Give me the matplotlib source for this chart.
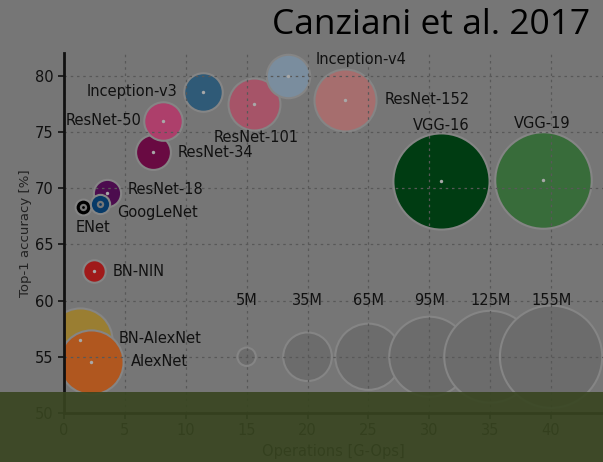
import matplotlib.pyplot as plt
from matplotlib.patches import Rectangle

# Networks: operations [G-Ops], top-1 accuracy [%], params [M]
names = ["BN-AlexNet", "AlexNet", "BN-NIN", "ENet", "ResNet-18", "GoogLeNet",
         "ResNet-34", "ResNet-50", "Inception-v3", "ResNet-101", "Inception-v4",
         "ResNet-152", "VGG-16", "VGG-19"]
ops = [1.3, 2.2, 2.45, 1.55, 3.5, 2.95, 7.3, 8.1, 11.4, 15.6, 18.4, 23.1, 31.0, 39.3]
acc = [56.5, 54.5, 62.6, 68.3, 69.6, 68.6, 73.2, 76.0, 78.5, 77.5, 80.0, 77.8, 70.6, 70.7]
params = [61, 61, 7.5, 0.37, 11, 5.5, 18, 22, 22, 40, 28, 57, 137, 138]
colors = ["#9a7e32", "#b0571f", "#a01a1a", "#000000", "#4c0c4e", "#073a68",
          "#690a42", "#ad3f6b", "#2f5a77", "#a65468", "#7a8d9e", "#a66e6e",
          "#003c12", "#386c3a"]

# size legend
legend_params = [5, 35, 65, 95, 125, 155]
legend_labels = ["5M", "35M", "65M", "95M", "125M", "155M"]
legend_x = [15, 20, 25, 30, 35, 40]

# label anchors
label_pos = {
    "BN-AlexNet": (4.5, 56.6, "left"), "AlexNet": (5.5, 54.6, "left"),
    "BN-NIN": (4.0, 62.6, "left"), "ENet": (2.4, 66.5, "center"),
    "ResNet-18": (5.25, 69.9, "left"), "GoogLeNet": (4.4, 67.8, "left"),
    "ResNet-34": (9.3, 73.2, "left"), "ResNet-50": (6.4, 76.0, "right"),
    "Inception-v3": (9.3, 78.6, "right"), "ResNet-101": (15.8, 74.5, "center"),
    "Inception-v4": (20.7, 81.4, "left"), "ResNet-152": (26.3, 77.9, "left"),
    "VGG-16": (31.0, 75.6, "center"), "VGG-19": (39.3, 75.7, "center"),
}

bg = "#767676"
edge = "#858585"
dot = "#a8a8a8"
ink = "#111111"


def size(p):
    return max(35 * p, 130)


fig = plt.figure(figsize=(6.03, 4.62), dpi=100, facecolor=bg)
ax = fig.add_axes([0.1061, 0.1061, 0.894, 0.779], facecolor=bg)

ax.set_axisbelow(False)
ax.grid(True, color="#585858", linestyle=(0, (2, 3)), linewidth=0.9, zorder=2.5)

ax.scatter(legend_x, [55] * len(legend_x), s=[size(p) for p in legend_params],
           color="#6c6c6c", edgecolor=edge, linewidth=1.5, zorder=2)
for x, lab in zip(legend_x, legend_labels):
    ax.text(x, 60, lab, ha="center", va="center", fontsize=10.5, color=ink, zorder=4)

for n, x, y, p, c in zip(names, ops, acc, params, colors):
    ax.scatter(x, y, s=size(p), color=c, edgecolor=edge, linewidth=1.5, zorder=2)
    if n in ("ENet", "GoogLeNet"):
        ax.scatter(x, y, s=28, color=bg, linewidth=0, zorder=3)
        ax.scatter(x, y, s=4, color=c, linewidth=0, zorder=3)
    else:
        ax.scatter(x, y, s=6, color=dot, linewidth=0, zorder=3)
    tx, ty, ha = label_pos[n]
    ax.text(tx, ty, n, ha=ha, va="center", fontsize=10.5, color=ink, zorder=4)

ax.set_xlim(0, 44.27)
ax.set_ylim(50, 82)
ax.set_xticks([0, 5, 10, 15, 20, 25, 30, 35, 40])
ax.set_yticks([50, 55, 60, 65, 70, 75, 80])
ax.tick_params(labelsize=10.5, colors=ink, length=4, width=1.2)
for s in ["top", "right"]:
    ax.spines[s].set_visible(False)
for s in ["left", "bottom"]:
    ax.spines[s].set_color("#111111")
    ax.spines[s].set_linewidth(2)
    ax.spines[s].set_zorder(5)
ax.set_xlabel("Operations [G-Ops]", fontsize=10.5, color=ink)
ax.set_ylabel("Top-1 accuracy [%]", fontsize=9.5, color="#222222", labelpad=2)

fig.text(0.978, 0.945, "Canziani et al. 2017", ha="right", va="center",
         fontsize=25.5, family="Open Sans", color="#000000")

fig.patches.append(Rectangle((0, 0), 1, 70 / 462, transform=fig.transFigure,
                             facecolor="#384520", alpha=0.9, zorder=10))

fig.savefig("out.png", dpi=100, facecolor=bg)
